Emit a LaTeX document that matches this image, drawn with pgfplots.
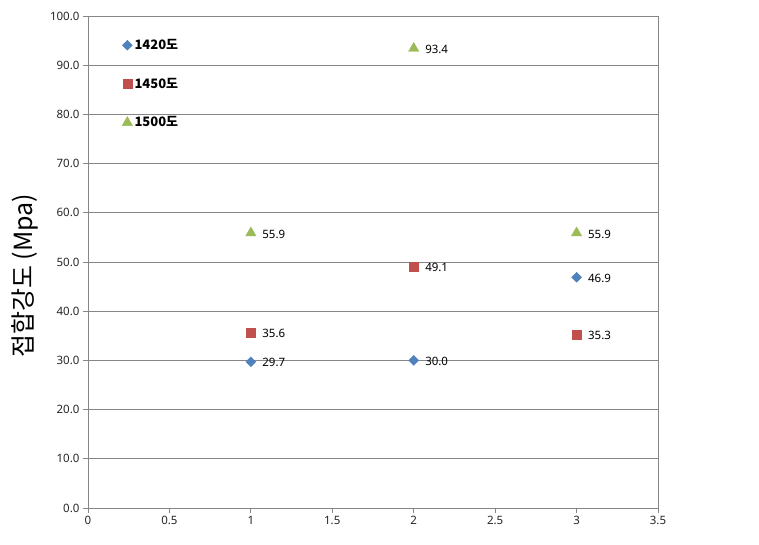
\documentclass[border=0pt]{standalone}
\usepackage{pgfplots}
\pgfplotsset{compat=1.18}
\usepackage{fontspec}
\setmainfont{Noto Sans}
\newfontfamily\kr{Noto Sans CJK KR}
\definecolor{sblue}{HTML}{4F81BD}
\definecolor{sred}{HTML}{C0504D}
\definecolor{sgreen}{HTML}{9BBB59}
\definecolor{gridc}{HTML}{868686}
\begin{document}
\begin{tikzpicture}
\begin{axis}[
  scale only axis, width=570pt, height=492pt,
  xmin=0, xmax=3.5, ymin=0, ymax=100,
  xtick={0,0.5,1,1.5,2,2.5,3,3.5},
  xticklabels={0,0.5,1,1.5,2,2.5,3,3.5},
  ytick={0,10,...,100},
  xtick pos=bottom, ytick pos=left,
  yticklabel style={/pgf/number format/.cd, fixed, fixed zerofill, precision=1},
  /pgf/number format/assume math mode=true,
  ticklabel style={font=\fontsize{11.5}{13}\selectfont, text=black!85},
  tick align=outside, major tick length=5pt,
  tick style={gridc, line width=0.8pt},
  axis line style={gridc, line width=0.8pt},
  ymajorgrids, grid style={gridc, line width=0.8pt},
  ylabel={\kr 접합강도 (Mpa)},
  ylabel style={font=\kr\fontsize{25}{27}\selectfont, at={(rel axis cs:0,0.5)}, anchor=center, xshift=-14pt, yshift=63pt},
  legend style={draw=none, fill=none, at={(axis cs:0.19,86.2)}, anchor=west,
    font=\kr\bfseries\fontsize{13}{15}\selectfont, row sep=23pt,
    legend cell align=left},
  legend image code/.code={\draw[#1] plot coordinates {(0.15cm,0cm)};},
  nodes near coords, point meta=explicit symbolic,
  every node near coord/.style={anchor=west, xshift=8pt, yshift=-1pt, font=\fontsize{11.5}{13}\selectfont, text=black},
  clip=false,
]
\addplot[only marks, mark=square*, mark size=3.5pt, sblue, mark options={fill=sblue, draw=sblue, rotate=45}]
  coordinates {(1,29.7)[29.7] (2,30.0)[30.0] (3,46.9)[46.9]};
\addlegendentry{1420도}
\addplot[only marks, mark=square*, mark size=4.5pt, sred, mark options={fill=sred, draw=sred}]
  coordinates {(1,35.6)[35.6] (2,49.1)[49.1] (3,35.3)[35.3]};
\addlegendentry{1450도}
\addplot[only marks, mark=triangle*, mark size=6pt, sgreen, mark options={fill=sgreen, draw=sgreen}]
  coordinates {(1,55.9)[55.9] (2,93.4)[93.4] (3,55.9)[55.9]};
\addlegendentry{1500도}
\end{axis}
\useasboundingbox (current axis.south west) ++(-88pt,-37pt) rectangle ([xshift=101pt,yshift=16pt]current axis.north east);
\end{tikzpicture}
\end{document}
